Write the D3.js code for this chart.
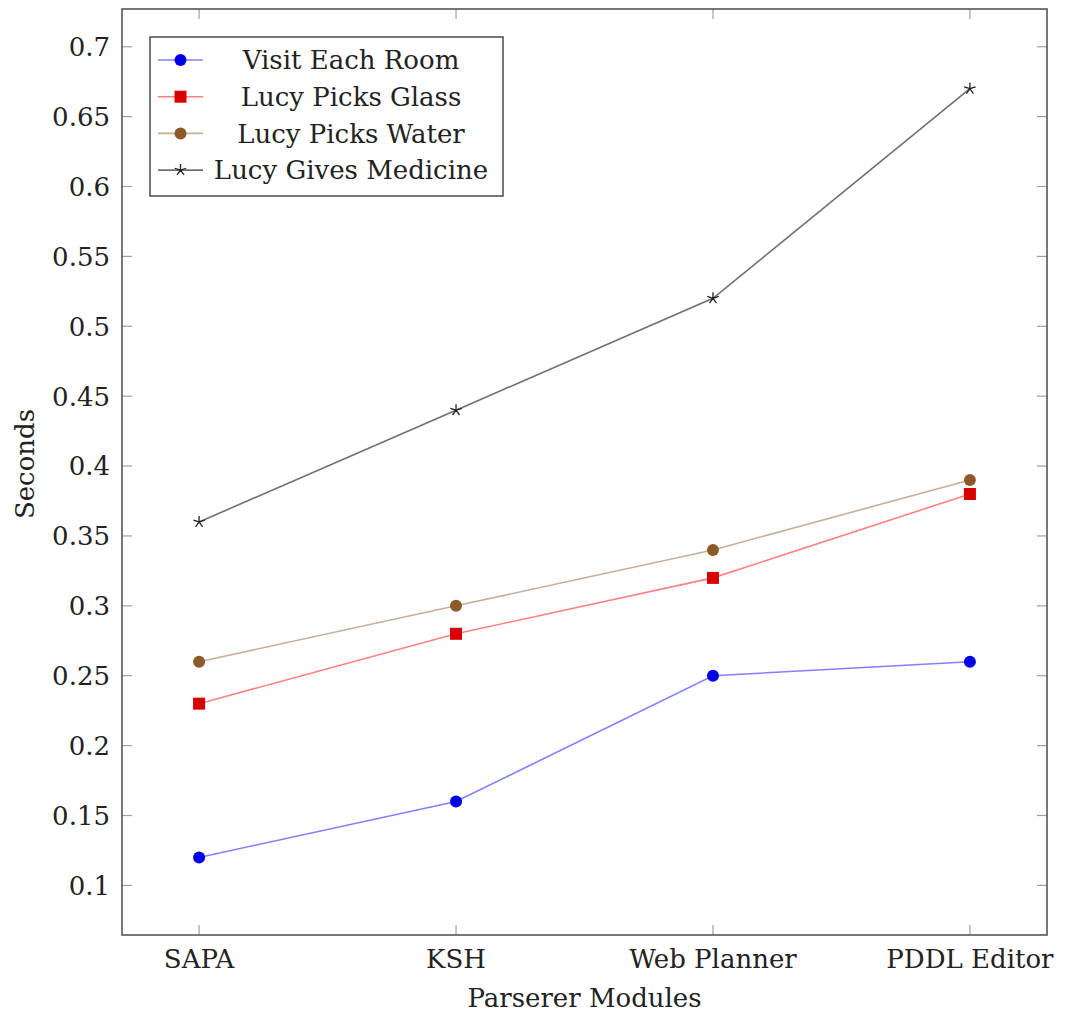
<!DOCTYPE html>
<html>
<head>
<meta charset="utf-8">
<script src="https://cdn.jsdelivr.net/npm/d3@7"></script>
<style>
  body { margin: 0; background: #fff; }
</style>
</head>
<body>
<div id="chart"></div>
<script>
const modules = ["SAPA", "KSH", "Web Planner", "PDDL Editor"];
const visitEachRoom = [0.12, 0.16, 0.25, 0.26];
const lucyPicksGlass = [0.23, 0.28, 0.32, 0.38];
const lucyPicksWater = [0.26, 0.30, 0.34, 0.39];
const lucyGivesMedicine = [0.36, 0.44, 0.52, 0.67];
const yTicks = [0.1, 0.15, 0.2, 0.25, 0.3, 0.35, 0.4, 0.45, 0.5, 0.55, 0.6, 0.65, 0.7];

const series = [
  { name: "Visit Each Room", values: visitEachRoom, line: "#8080ff", mark: "#0000e6", shape: "circle" },
  { name: "Lucy Picks Glass", values: lucyPicksGlass, line: "#ff8080", mark: "#d90000", shape: "square" },
  { name: "Lucy Picks Water", values: lucyPicksWater, line: "#c8ae96", mark: "#8f5a2a", shape: "circle" },
  { name: "Lucy Gives Medicine", values: lucyGivesMedicine, line: "#707070", mark: "#222", shape: "star" }
];

const width = 1073, height = 1015;
const margin = { left: 122, right: 26, top: 9, bottom: 80 };
const fontSize = 26;
const serif = "'DejaVu Serif', serif";

const svg = d3.select("#chart").append("svg").attr("width", width).attr("height", height)
  .attr("font-family", serif).attr("fill", "#222");

const x = d3.scaleLinear().domain([-0.3, modules.length - 1 + 0.3]).range([margin.left, width - margin.right]);
const y = d3.scaleLinear().domain([0.0645, 0.727]).range([height - margin.bottom, margin.top]);

const x0 = x.range()[0], x1 = x.range()[1], y0 = y.range()[0], y1 = y.range()[1];
const tickLen = 10;

// ticks (inside, all four sides)
const tickColor = "#a0a0a0";
const g = svg.append("g");
yTicks.forEach((t) => {
  g.append("line").attr("x1", x0).attr("x2", x0 + tickLen).attr("y1", y(t)).attr("y2", y(t)).attr("stroke", tickColor).attr("stroke-width", 1.2);
  g.append("line").attr("x1", x1).attr("x2", x1 - tickLen).attr("y1", y(t)).attr("y2", y(t)).attr("stroke", tickColor).attr("stroke-width", 1.2);
  g.append("text").attr("x", x0 - 12).attr("y", y(t)).attr("dy", "0.36em").attr("text-anchor", "end")
    .attr("font-size", fontSize).text(d3.format("")(t));
});
modules.forEach((m, i) => {
  g.append("line").attr("x1", x(i)).attr("x2", x(i)).attr("y1", y0).attr("y2", y0 - tickLen).attr("stroke", tickColor).attr("stroke-width", 1.2);
  g.append("line").attr("x1", x(i)).attr("x2", x(i)).attr("y1", y1).attr("y2", y1 + tickLen).attr("stroke", tickColor).attr("stroke-width", 1.2);
  g.append("text").attr("x", x(i)).attr("y", y0 + 33).attr("text-anchor", "middle")
    .attr("font-size", fontSize).text(m);
});

// frame
svg.append("rect").attr("x", x0).attr("y", y1).attr("width", x1 - x0).attr("height", y0 - y1)
  .attr("fill", "none").attr("stroke", "#555").attr("stroke-width", 1.6);

// axis labels
svg.append("text").attr("x", (x0 + x1) / 2).attr("y", 1007).attr("text-anchor", "middle")
  .attr("font-size", fontSize).text("Parserer Modules");
svg.append("text").attr("transform", `translate(34,${(y0 + y1) / 2 - 8}) rotate(-90)`).attr("text-anchor", "middle")
  .attr("font-size", fontSize).text("Seconds");

// five-armed star like the pgfplots "star" mark
function starPath(r) {
  const p = d3.path();
  for (let k = 0; k < 5; k++) {
    const a = -Math.PI / 2 + k * 2 * Math.PI / 5;
    p.moveTo(0, 0);
    p.lineTo(r * Math.cos(a), r * Math.sin(a));
  }
  return p.toString();
}

function drawMark(sel, s, cx, cy) {
  if (s.shape === "circle") {
    sel.append("circle").attr("cx", cx).attr("cy", cy).attr("r", 6).attr("fill", s.mark);
  } else if (s.shape === "square") {
    sel.append("rect").attr("x", cx - 6).attr("y", cy - 6).attr("width", 12).attr("height", 12).attr("fill", s.mark);
  } else {
    sel.append("path").attr("d", starPath(6)).attr("transform", `translate(${cx},${cy})`)
      .attr("fill", "none").attr("stroke", s.mark).attr("stroke-width", 1.3);
  }
}

const line = d3.line().x((d, i) => x(i)).y((d) => y(d));

series.forEach((s) => {
  const sg = svg.append("g");
  sg.append("path").datum(s.values).attr("d", line).attr("fill", "none").attr("stroke", s.line).attr("stroke-width", 1.6);
  s.values.forEach((v, i) => drawMark(sg, s, x(i), y(v)));
});

// legend
const legend = svg.append("g");
legend.append("rect").attr("x", 150).attr("y", 37).attr("width", 353).attr("height", 159)
  .attr("fill", "#fff").attr("stroke", "#555").attr("stroke-width", 1.6);
series.forEach((s, i) => {
  const cy = 60 + i * 36.7;
  legend.append("line").attr("x1", 158).attr("x2", 203).attr("y1", cy).attr("y2", cy).attr("stroke", s.line).attr("stroke-width", 1.6);
  drawMark(legend, s, 180.5, cy);
  legend.append("text").attr("x", 351).attr("y", cy).attr("dy", "0.35em").attr("text-anchor", "middle")
    .attr("font-size", fontSize).text(s.name);
});
</script>
</body>
</html>
